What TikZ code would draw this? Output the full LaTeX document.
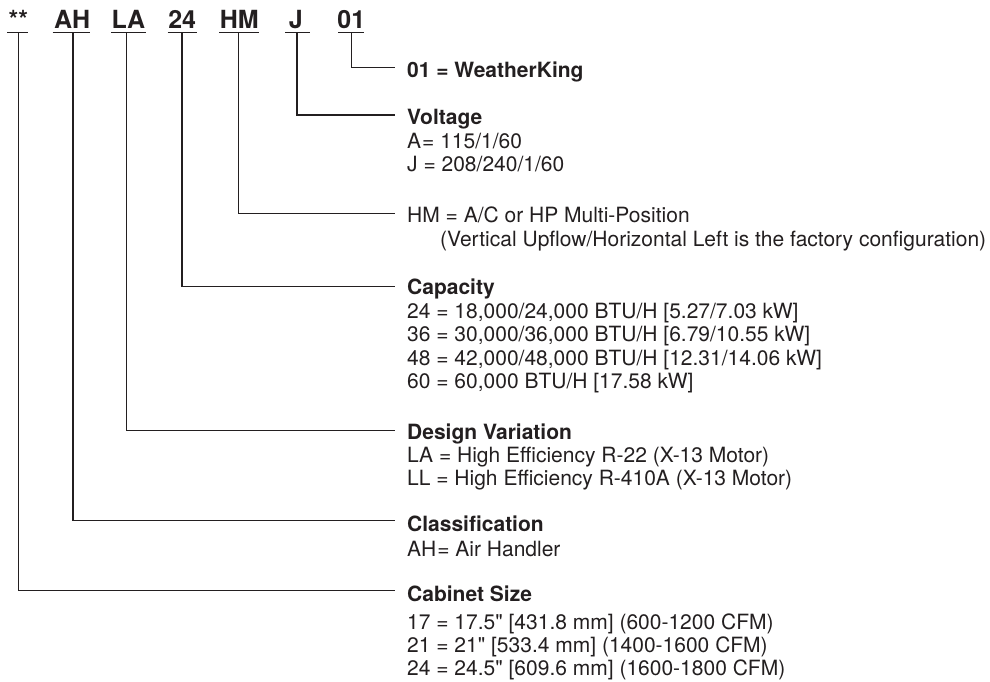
\documentclass[tikz,border=0pt]{standalone}
\usepackage{fontspec}
\setmainfont{TeX Gyre Heros}
\definecolor{ink}{HTML}{231F20}
\tikzset{
  codetxt/.style={font=\fontsize{25}{30}\selectfont\bfseries, anchor=base, inner sep=0pt, text=ink},
  headtxt/.style={font=\fontsize{21}{24}\selectfont\bfseries, anchor=base west, inner sep=0pt, text=ink},
  bodytxt/.style={font=\fontsize{21}{24}\selectfont, anchor=base west, inner sep=0pt, text=ink},
  leader/.style={draw=ink, line width=1.2pt}
}
\begin{document}
\begin{tikzpicture}[x=1pt,y=-1pt]
\useasboundingbox (0,0) rectangle (990,681);

% model number codes
\node[codetxt] (cStar) at (18.3,28) {**};
\node[codetxt] (cAH)   at (72.2,28) {AH};
\node[codetxt] (cLA)   at (128.3,28) {LA};
\node[codetxt] (c24)   at (182.2,28) {24};
\node[codetxt] (cHM)   at (239.3,28) {HM};
\node[codetxt] (cJ)    at (295.8,28) {J};
\node[codetxt] (c01)   at (351.3,28) {01};

% underlines
\draw[leader] (7.3,32.5) -- (28.3,32.5);
\draw[leader] (52.7,32.5) -- (90,32.5);
\draw[leader] (111,32.5) -- (145.7,32.5);
\draw[leader] (167.7,32.5) -- (196.7,32.5);
\draw[leader] (219,32.5) -- (259.3,32.5);
\draw[leader] (285,32.5) -- (310,32.5);
\draw[leader] (338.3,32.5) -- (364.3,32.5);

% connector start points (under each code)
\coordinate (uStar) at (18.3,32.5);
\coordinate (uAH)   at (73,32.5);
\coordinate (uLA)   at (126.7,32.5);
\coordinate (u24)   at (182,32.5);
\coordinate (uHM)   at (238.7,32.5);
\coordinate (uJ)    at (297,32.5);
\coordinate (u01)   at (351.7,32.5);

% connector end points
\coordinate (e01)   at (395,67.7);
\coordinate (eJ)    at (395,115);
\coordinate (eHM)   at (395,213.3);
\coordinate (e24)   at (395,286.3);
\coordinate (eLA)   at (395,430.3);
\coordinate (eAH)   at (395,520.7);
\coordinate (eStar) at (395,590.7);

\draw[leader] (u01) |- (e01);
\draw[leader] (uJ) |- (eJ);
\draw[leader] (uHM) |- (eHM);
\draw[leader] (u24) |- (e24);
\draw[leader] (uLA) |- (eLA);
\draw[leader] (uAH) |- (eAH);
\draw[leader] (uStar) |- (eStar);

% descriptions
\node[headtxt] (t01) at (407,77) {01 = WeatherKing};

\node[headtxt] (tV)  at (407,124.5) {Voltage};
\node[bodytxt] (tV1) at (407,148) {A\kern1pt= 115/1/60};
\node[bodytxt] (tV2) at (407,171.5) {J = 208/240/1/60};

\node[bodytxt] (tHM)  at (407,222.5) {HM = A/C or HP Multi-Position};
\node[bodytxt] (tHM1) at (440,246) {(Vertical Upflow/Horizontal Left is the factory configuration)};

\node[headtxt] (tC)  at (407,294.5) {Capacity};
\node[bodytxt] (tC1) at (407,318) {24 = 18,000/24,000 BTU/H [5.27/7.03 kW]};
\node[bodytxt] (tC2) at (407,341.5) {36 = 30,000/36,000 BTU/H [6.79/10.55 kW]};
\node[bodytxt] (tC3) at (407,365) {48 = 42,000/48,000 BTU/H [12.31/14.06 kW]};
\node[bodytxt] (tC4) at (407,388.5) {60 = 60,000 BTU/H [17.58 kW]};

\node[headtxt] (tD)  at (407,439) {Design Variation};
\node[bodytxt] (tD1) at (407,462) {LA = High Efficiency R-22 (X-13 Motor)};
\node[bodytxt] (tD2) at (407,485.5) {LL = High Efficiency R-410A (X-13 Motor)};

\node[headtxt] (tCl)  at (407,531.5) {Classification};
\node[bodytxt] (tCl1) at (407,556) {AH\kern1pt= Air Handler};

\node[headtxt] (tCS)  at (407,601) {Cabinet Size};
\node[bodytxt] (tCS1) at (407,629) {17 = 17.5\textquotedbl{} [431.8 mm] (600-1200 CFM)};
\node[bodytxt] (tCS2) at (407,652.3) {21 = 21\textquotedbl{} [533.4 mm] (1400-1600 CFM)};
\node[bodytxt] (tCS3) at (407,675.5) {24 = 24.5\textquotedbl{} [609.6 mm] (1600-1800 CFM)};
\end{tikzpicture}
\end{document}
